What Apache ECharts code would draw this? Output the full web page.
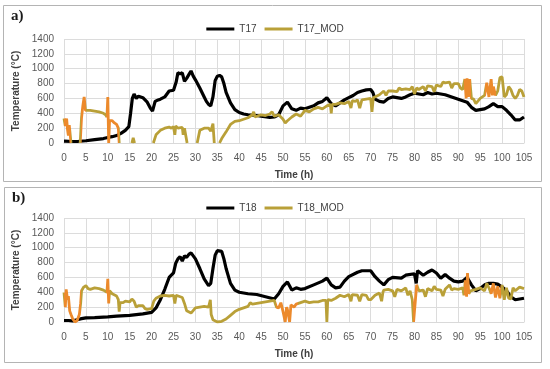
<!DOCTYPE html>
<html>
<head>
<meta charset="utf-8">
<script src="https://cdn.jsdelivr.net/npm/echarts@6/dist/echarts.min.js"></script>
<style>html,body{margin:0;padding:0;background:#fff;}#c{width:550px;height:369px;}</style>
</head>
<body>
<div id="c"></div>
<script>
// ---- data (time in h, temperature in °C) ----
var xTicks = [0, 105, 5];
var yTicks = [0, 1400, 200];
var legendA = ['T17', 'T17_MOD'];
var legendB = ['T18', 'T18_MOD'];

var T17 = [[0,25],[2,20],[3,20],[5,30],[7,45],[9,60],[10,75],[11,85],[12,100],[13,130],[14,170],[14.8,220],[15.2,400],[15.6,600],[16,660],[16.5,600],[17,630],[18,610],[19,550],[19.7,470],[20.2,430],[20.8,560],[21.5,580],[22,590],[23,620],[23.5,660],[24,700],[25,710],[25.6,820],[26,945],[26.5,930],[27,945],[27.5,830],[28,870],[28.6,930],[29,970],[29.5,900],[30,850],[31,740],[32,620],[32.5,560],[33,520],[33.5,500],[34,620],[34.5,840],[35,900],[35.5,910],[36,890],[36.5,800],[37,680],[38,540],[39,450],[40,410],[41,390],[42,380],[44,370],[45,360],[47,345],[48,350],[49,380],[50,500],[51,550],[52,460],[53,440],[54,470],[55,460],[56,480],[57,500],[58,540],[59,560],[60,610],[61,530],[62,500],[63,540],[64,580],[65,610],[66,640],[67,680],[68,700],[69,715],[70,720],[70.5,680],[71,590],[72,560],[73,550],[74,600],[75,620],[76,610],[77,600],[78,620],[79,650],[80,670],[81,660],[82,650],[83,680],[84,660],[85,670],[86,660],[87,650],[88,630],[89,610],[90,590],[91,570],[92,550],[93,480],[94,440],[95,450],[96,460],[97,490],[98,530],[99,490],[100,490],[101,440],[102,380],[103,310],[104,310],[105,350]];

var T17_MOD = [[0,330],[0.3,230],[0.6,330],[0.8,180],[1,100],[1.2,240],[1.4,120],[1.6,0],[1.7,null],[3.7,0],[4,340],[4.3,500],[4.6,620],[4.9,440],[5.3,420],[6,440],[7,430],[8,420],[9,400],[9.5,380],[9.8,350],[10,620],[10.2,0],[10.4,300],[11,300],[11.5,270],[12,250],[12.4,200],[12.6,0],[12.7,null],[15.5,0],[15.8,70],[16.1,0],[16.2,null],[20.4,0],[21,110],[22,170],[23,200],[24,215],[24.5,200],[25,220],[25.3,110],[25.5,230],[26,200],[27,210],[27.2,110],[27.5,200],[27.9,180],[28.1,0],[28.2,null],[30.4,0],[31,170],[32,200],[33,200],[33.5,160],[34,260],[34.3,0],[34.4,null],[35.5,0],[36,60],[37,150],[38,250],[39,290],[40,300],[41,320],[42,340],[43,380],[43.3,420],[43.6,350],[44,360],[45,380],[46,370],[47,390],[47.5,420],[48,360],[49,380],[50,320],[50.5,270],[51,300],[52,350],[53,390],[54,360],[55,440],[56,420],[57,460],[58,480],[59,460],[60,500],[60.8,520],[61,400],[61.2,520],[62,520],[63,540],[64,530],[65,560],[65.5,470],[65.8,570],[66.5,560],[67,580],[67.5,470],[68,580],[69,590],[70,600],[70.3,420],[70.6,610],[71,620],[72,650],[73,700],[73.5,640],[74,700],[75,700],[76,690],[76.5,740],[77,720],[78,730],[79,720],[79.5,760],[80,660],[80.5,740],[81,720],[82,760],[82.5,700],[83,770],[84,760],[84.5,690],[85,780],[86,760],[86.5,820],[87,810],[88,820],[88.5,740],[89,800],[90,800],[90.5,740],[91,720],[91.5,860],[91.8,600],[92,870],[92.3,620],[92.6,860],[93,600],[93.5,590],[94,530],[95,600],[96,640],[96.5,810],[97,620],[97.5,860],[97.8,640],[98,760],[98.5,640],[99,700],[99.5,880],[100,890],[100.5,620],[101,650],[101.5,760],[102,720],[102.5,640],[103,600],[103.5,640],[104,720],[104.5,700],[105,620]];

var T18 = [[0,20],[1,20],[2,15],[3,30],[4,45],[5,55],[7,60],[10,70],[12,80],[15,90],[18,110],[20,130],[21,190],[22,300],[23,440],[24,600],[25,660],[25.5,790],[26,850],[26.5,880],[27,820],[27.5,890],[28,870],[28.5,910],[29,930],[30,850],[31,720],[32,580],[33,490],[33.5,520],[34,720],[34.5,900],[35,960],[36,950],[36.5,850],[37,720],[38,520],[39,430],[40,400],[41,390],[42,380],[44,370],[46,340],[48,310],[49,380],[50,480],[51,540],[52,430],[53,460],[54,440],[55,450],[57,500],[59,550],[60,590],[61,500],[62,460],[63,470],[64,550],[65,610],[67,670],[68,690],[70,690],[71,610],[72,550],[73,500],[74,570],[75,600],[77,590],[78,630],[80,650],[80.4,520],[80.7,690],[82,630],[83,670],[84,700],[85,660],[86,590],[87,640],[88,590],[89,550],[90,540],[91,550],[92,600],[93,500],[94,420],[95,450],[96,500],[97,520],[98,520],[99,510],[100,470],[101,420],[102,340],[103,300],[104,310],[105,320]];

var T18_MOD = [[0,400],[0.3,200],[0.5,440],[0.8,300],[1,350],[1.3,150],[1.6,100],[2,40],[2.5,0],[3,20],[3.5,100],[3.8,250],[4,420],[4.5,470],[5,490],[5.5,450],[6,440],[7,460],[8,450],[9,430],[9.8,400],[10,580],[10.2,250],[10.4,420],[11,380],[12,350],[12.4,300],[12.6,140],[12.8,260],[13.5,260],[14,280],[15,270],[15.5,310],[16,280],[16.5,200],[17,220],[18,220],[18.5,180],[19,170],[20,180],[20.5,280],[21,320],[22,350],[23,360],[24,350],[25,360],[25.3,250],[25.6,360],[26,350],[27,330],[27.5,250],[28,150],[29,120],[30,190],[31,200],[32,210],[33,200],[33.4,300],[33.6,100],[34,30],[35,0],[36,10],[37,40],[38,90],[39,140],[40,170],[41,190],[42,210],[42.5,260],[43,240],[44,250],[45,260],[46,270],[47,280],[48,290],[48.5,200],[49,190],[49.5,260],[50,140],[50.5,0],[50.8,200],[51,170],[51.5,0],[51.8,230],[52.5,200],[53,240],[54,260],[55,280],[56,260],[57,270],[58,270],[59,290],[59.8,290],[60,0],[60.2,300],[61,290],[62,320],[63,360],[64,340],[65,370],[65.5,280],[65.8,370],[67,360],[67.5,280],[68,370],[69,360],[69.5,300],[70,300],[71,360],[72,390],[72.5,280],[72.8,400],[73,430],[74,440],[75,420],[75.5,340],[76,440],[77,420],[78,460],[78.5,360],[79,420],[79.5,300],[79.8,0],[80.2,10],[80.5,500],[81,420],[82,430],[82.5,340],[83,450],[84,420],[84.5,480],[85,440],[86,430],[86.5,350],[87,440],[88,500],[88.5,430],[89,450],[90,440],[91,460],[91.3,360],[91.6,560],[91.9,340],[92.1,660],[92.4,380],[92.8,420],[93,420],[94,440],[95,460],[96,420],[96.5,520],[97,460],[97.5,380],[98,520],[98.5,330],[99,480],[99.5,320],[100,500],[100.5,300],[101,460],[101.5,320],[102,310],[102.5,460],[103,420],[104,470],[105,450]];

// time ranges drawn in orange on the model series
var orangeA = [[0,1.7],[3.8,5],[9.7,12.5],[91.2,92.8],[96.2,98.6]];
var orangeB = [[0,3.8],[9.7,10.5],[48.3,53.5],[79.6,80.8],[91.2,92.6],[97.3,99.8]];

// ---- styling ----
var GOLD = '#B9A038', ORANGE = '#EC8A2C', BLACK = '#000000';
var labelStyle = {color:'#595959', fontSize:10, fontFamily:'Liberation Sans'};
var nameStyle = {color:'#404040', fontSize:10, fontWeight:'bold', fontFamily:'Liberation Sans'};
var grids = [{left:64, right:26, top:39, height:104}, {left:64, right:26, top:218, height:104}];

function xAxis(i){
  return {type:'value', gridIndex:i, min:xTicks[0], max:xTicks[1], interval:xTicks[2],
    name:'Time (h)', nameLocation:'middle', nameGap:27, nameTextStyle:nameStyle,
    axisLine:{show:true, lineStyle:{color:'#D9D9D9'}}, axisTick:{show:false},
    axisLabel:Object.assign({margin:10, formatter:function(v){return String(v);}}, labelStyle),
    splitLine:{show:true, lineStyle:{color:'#DCDCDC', width:1}}};
}
function yAxis(i){
  return {type:'value', gridIndex:i, min:yTicks[0], max:yTicks[1], interval:yTicks[2],
    name:'Temperature (°C)', nameLocation:'middle', nameGap:36, nameTextStyle:nameStyle,
    axisLine:{show:false}, axisTick:{show:false},
    axisLabel:Object.assign({margin:10, formatter:function(v){return String(v);}}, labelStyle),
    splitLine:{show:true, lineStyle:{color:'#DCDCDC', width:1}}};
}
function legend(names, top){
  return {top:top, left:'center', icon:'rect', itemWidth:28, itemHeight:3, itemGap:8,
    textStyle:{color:'#404040', fontSize:10, fontFamily:'Liberation Sans'},
    data:[{name:names[0], itemStyle:{color:BLACK}}, {name:names[1], itemStyle:{color:GOLD}}]};
}
function blackLine(name, data, i){
  return {type:'line', name:name, data:data, xAxisIndex:i, yAxisIndex:i, showSymbol:false, symbol:'none',
    connectNulls:false, itemStyle:{color:BLACK}, lineStyle:{color:BLACK, width:3.2}};
}
function modLine(name, data, i){
  return {type:'line', name:name, data:data, xAxisIndex:i, yAxisIndex:i, showSymbol:false, symbol:'none',
    connectNulls:false, lineStyle:{width:2.8}};
}
function vm(ranges, idx){
  var pieces = [];
  var prev = -1;
  ranges.forEach(function(r){
    pieces.push({gte:prev, lt:r[0], color:GOLD});
    pieces.push({gte:r[0], lt:r[1], color:ORANGE});
    prev = r[1];
  });
  pieces.push({gte:prev, lte:200, color:GOLD});
  return {type:'piecewise', show:false, dimension:0, seriesIndex:idx, pieces:pieces};
}

var chart = echarts.init(document.getElementById('c'), null, {renderer:'canvas'});
chart.setOption({
  backgroundColor:'#ffffff',
  animation:false,
  grid:grids,
  xAxis:[xAxis(0), xAxis(1)],
  yAxis:[yAxis(0), yAxis(1)],
  legend:[legend(legendA, 19), legend(legendB, 198)],
  visualMap:[vm(orangeA, 1), vm(orangeB, 3)],
  series:[
    blackLine('T17', T17, 0),
    modLine('T17_MOD', T17_MOD, 0),
    blackLine('T18', T18, 1),
    modLine('T18_MOD', T18_MOD, 1)
  ],
  graphic:[
    {type:'rect', shape:{x:3.5, y:5.5, width:538, height:176}, style:{fill:'none', stroke:'#B4B4B4', lineWidth:1}},
    {type:'rect', shape:{x:4.5, y:187.5, width:537, height:175}, style:{fill:'none', stroke:'#B4B4B4', lineWidth:1}},
    {type:'text', left:11, top:9, style:{text:'a)', fill:'#1a1a1a', font:'bold 15px "Liberation Serif"'}},
    {type:'text', left:12, top:191, style:{text:'b)', fill:'#1a1a1a', font:'bold 15px "Liberation Serif"'}}
  ]
});
</script>
</body>
</html>
